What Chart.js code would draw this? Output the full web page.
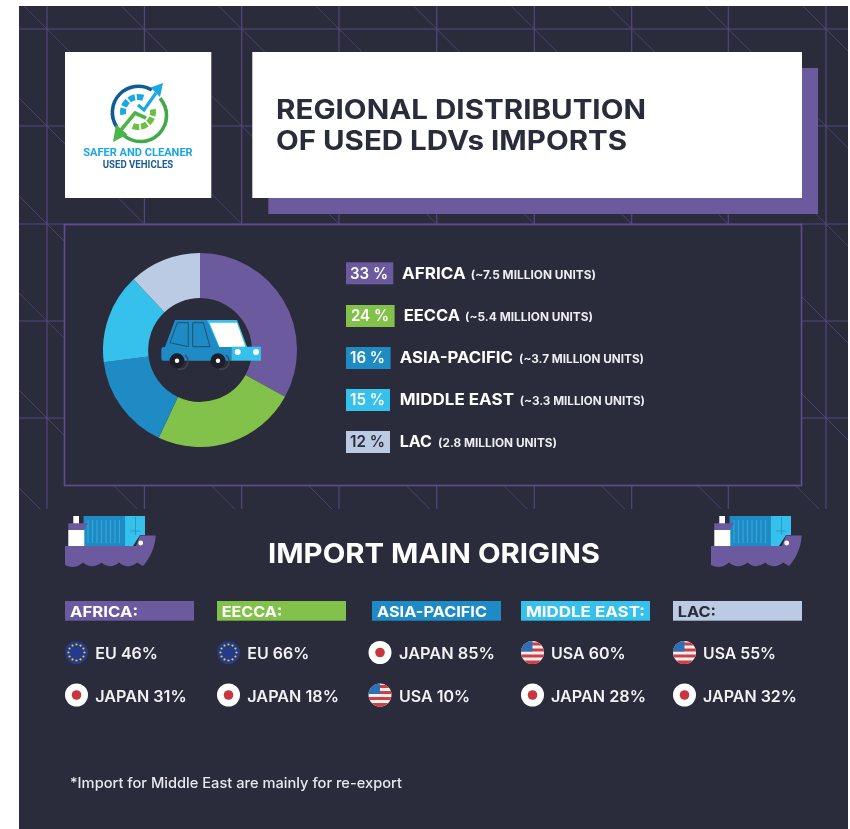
<!DOCTYPE html>
<html>
<head>
<meta charset="utf-8">
<title>Regional distribution of used LDVs imports</title>
<script src="https://cdn.jsdelivr.net/npm/chart.js@4"></script>
<style>
html, body { margin: 0; padding: 0; background: #fff; overflow: hidden; }
#hoja { position: relative; width: 850px; height: 829px; }
#fondo, #frente { position: absolute; left: 0; top: 0; }
#grafica { position: absolute; left: 103px; top: 253px; }
text { font-family: Inter, "Open Sans", sans-serif; }
</style>
</head>
<body>
<div id="hoja">
  <svg id="fondo" width="850" height="829"></svg>
  <canvas id="grafica" width="194" height="194"></canvas>
  <svg id="frente" width="850" height="829" xmlns="http://www.w3.org/2000/svg">
    <defs>
      <clipPath id="circulo"><circle cx="0" cy="0" r="11.5"/></clipPath>
      <g id="flag-JAPAN">
        <circle r="11.5" fill="#fff"/><circle r="4.8" fill="#c8373d"/>
      </g>
      <g id="flag-USA" clip-path="url(#circulo)">
        <rect x="-12" y="-12" width="24" height="24" fill="#f4f1f1"/>
        <rect x="-12" y="-10" width="24" height="3" fill="#cf3f45"/>
        <rect x="-12" y="-4" width="24" height="3" fill="#cf3f45"/>
        <rect x="-12" y="2" width="24" height="3" fill="#cf3f45"/>
        <rect x="-12" y="8" width="24" height="4" fill="#cf3f45"/>
        <rect x="-12" y="-12" width="12" height="11" fill="#2f6fb5"/>
      </g>
      <g id="flag-EU"><circle r="11.5" fill="#223b8c"/></g>
      <g id="barco">
        <rect x="73.3" y="516" width="5.7" height="8" fill="#fff"/>
        <rect x="83.5" y="516" width="42" height="30" fill="#1f8bc5"/>
        <path d="M88 520V543M92.5 520V543M97 520V543M101.5 520V543M106 520V543M110.5 520V543M115 520V543M119.5 520V543" stroke="#36a9dc" stroke-width="1"/>
        <path d="M125 516H145V535H140L133 546H125Z" fill="#36c0ec"/>
        <path d="M135.5 517V535M130 531H140" stroke="#1f8bc5" stroke-width=".7"/>
        <rect x="68.3" y="530" width="16" height="16" fill="#fff"/>
        <path d="M68.3 523.3H88.3L83.3 530H68.3Z" fill="#6c5a9e"/>
        <path d="M65 546H136L140 535.5H155.7C155 548 150 558 143 566L137 562.5Q128 570 119 562.5Q110 570 101.5 562.5Q92 570 83 562.5Q74 570 65 565Z" fill="#6c5a9e"/>
        <circle cx="140.7" cy="543" r="2.4" fill="#fff"/>
      </g>
    </defs>
  </svg>
</div>
<script>
// datos de la grafica
const regiones = ['AFRICA', 'EECCA', 'ASIA-PACIFIC', 'MIDDLE EAST', 'LAC'];
const porcentajes = [33, 24, 16, 15, 12];
const unidades = ['(~7.5 MILLION UNITS)', '(~5.4 MILLION UNITS)', '(~3.7 MILLION UNITS)', '(~3.3 MILLION UNITS)', '(2.8 MILLION UNITS)'];
const colores = ['#6c5a9e', '#82c24a', '#1f8bc5', '#36c0ec', '#bccbe4'];
// origenes de cada region
const cabeceras = ['AFRICA:', 'EECCA:', 'ASIA-PACIFIC', 'MIDDLE EAST:', 'LAC:'];
const origen1 = ['EU', 'EU', 'JAPAN', 'USA', 'USA'];
const valor1 = [46, 66, 85, 60, 55];
const origen2 = ['JAPAN', 'JAPAN', 'USA', 'JAPAN', 'JAPAN'];
const valor2 = [31, 18, 10, 28, 32];

const NS = 'http://www.w3.org/2000/svg';
const OSCURO = '#2b2c3b', LINEA = '#54467f', BLANCO = '#ffffff';

function el(padre, tag, attrs) {
    let e = document.createElementNS(NS, tag);
    for (let k in attrs) e.setAttribute(k, attrs[k]);
    padre.appendChild(e);
    return e;
}
// texto estirado entre x1 y x2, y es la linea base (la fuente original es mas ancha)
function txt(padre, s, x1, x2, y, size, weight, color, family) {
    let t = el(padre, 'text', { x: x1, y: y, 'font-size': size, 'font-weight': weight, fill: color,
        textLength: x2 - x1, lengthAdjust: 'spacingAndGlyphs' });
    if (family) t.style.fontFamily = family;
    t.textContent = s;
    return t;
}

const fondo = document.getElementById('fondo');
const frente = document.getElementById('frente');

// panel oscuro y la reticula de lineas
el(fondo, 'rect', { x: 19, y: 6, width: 829, height: 823, fill: OSCURO });
const gx = [47, 144.4, 241.7, 339, 436.7, 534.3, 631.7, 728.3, 826];
const gy = [29, 126, 224, 321, 418, 516];
const clip = el(el(fondo, 'defs', {}), 'clipPath', { id: 'zona' });
el(clip, 'rect', { x: 19, y: 6, width: 829, height: 503 });
const red = el(fondo, 'g', { 'clip-path': 'url(#zona)', stroke: LINEA, fill: 'none' });
gx.forEach(x => el(red, 'line', { x1: x, y1: 6, x2: x, y2: 509, 'stroke-width': 1.2 }));
gy.slice(0, 5).forEach(y => el(red, 'line', { x1: 19, y1: y, x2: 848, y2: y, 'stroke-width': 1.2 }));
gx.forEach(x => gy.forEach(y => el(red, 'line', { x1: x - 30, y1: y - 30, x2: x + 23, y2: y + 23, 'stroke-width': .8 })));

// cajas de arriba
el(fondo, 'rect', { x: 268.3, y: 68, width: 549.7, height: 146, fill: '#6c5a9e' });
el(fondo, 'rect', { x: 65, y: 52, width: 146.3, height: 146, fill: BLANCO });
el(fondo, 'rect', { x: 252.3, y: 52, width: 549.7, height: 146, fill: BLANCO });
el(fondo, 'rect', { x: 64.5, y: 224.5, width: 737, height: 261, fill: OSCURO, stroke: '#5e4d90', 'stroke-width': 1.6 });

txt(frente, 'REGIONAL DISTRIBUTION', 276, 646, 119.3, 27, 700, OSCURO);
txt(frente, 'OF USED LDVs IMPORTS', 276, 627, 150, 27, 700, OSCURO);

// logo
const logo = el(frente, 'g', { fill: 'none' });
el(logo, 'path', { d: 'M116.7 126.7A26 26 0 0 1 151.7 90', stroke: '#0f5c97', 'stroke-width': 3.6 });
el(logo, 'path', { d: 'M160 98.3A26 26 0 0 1 123.3 135', stroke: '#3fab48', 'stroke-width': 3.6 });
el(logo, 'path', { d: 'M123.2 114.6A15 15 0 0 1 145 98.7', stroke: '#1aa7e6', 'stroke-width': 6, 'stroke-dasharray': '6.5 1.8' });
el(logo, 'path', { d: 'M152.8 109.4A15 15 0 0 1 131 125.3', stroke: '#6cbf45', 'stroke-width': 6, 'stroke-dasharray': '6.5 1.8' });
el(logo, 'path', { d: 'M138 105L144 110L156 93', stroke: '#fff', 'stroke-width': 6 });
el(logo, 'path', { d: 'M138 105L144 110L156 93', stroke: '#1aa7e6', 'stroke-width': 3.2 });
el(logo, 'path', { d: 'M163 83L150.5 87.5L160 97Z', fill: '#1aa7e6' });
el(logo, 'path', { d: 'M146 118L135 113L121 130', stroke: '#fff', 'stroke-width': 6 });
el(logo, 'path', { d: 'M146 118L135 113L121 130', stroke: '#4cb748', 'stroke-width': 3.6 });
el(logo, 'path', { d: 'M113 142L116 124.5L127.5 134.5Z', fill: '#4cb748' });
txt(frente, 'SAFER AND CLEANER', 83.3, 192.7, 156, 11.5, 700, '#1aa7e6', 'Roboto');
txt(frente, 'USED VEHICLES', 102.7, 173.3, 167.5, 10, 700, '#1f5c94', 'Roboto');

// anillo
new Chart(document.getElementById('grafica'), {
    type: 'doughnut',
    data: {
        labels: regiones,
        datasets: [{ data: porcentajes, backgroundColor: colores, borderWidth: 0 }]
    },
    options: {
        responsive: false,
        animation: false,
        cutout: '53.5%',
        layout: { padding: 0 },
        plugins: { legend: { display: false }, tooltip: { enabled: false } }
    }
});

// coche del centro
const coche = el(frente, 'g', {});
el(coche, 'path', { d: 'M175 320H237L247 347H165Z', fill: '#1f8bc5' });
el(coche, 'path', { d: 'M207 320H237L247 347H219Z', fill: '#36c0ec' });
el(coche, 'path', { d: 'M209.5 322.8H237L245.5 347H219.5Z', fill: '#fff' });
el(coche, 'path', { d: 'M164 347H232V360.7H163Q161.3 360.7 161.3 358V350Q161.3 347 164 347Z', fill: '#1f8bc5' });
el(coche, 'rect', { x: 231.7, y: 346.7, width: 29.3, height: 14, fill: '#36c0ec' });
el(coche, 'path', { d: 'M177.3 322.7H188.3V346.7L170 342.7ZM192.7 322.7H203.3L210 346.7H192.7Z', fill: 'none', stroke: '#24506f', 'stroke-width': 1 });
[237.7, 256].forEach(x => el(coche, 'circle', { cx: x, cy: 352, r: 3, fill: '#fff' }));
[177, 218].forEach(x => {
    el(coche, 'path', { d: `M${x + 8} 355A8 8 0 0 1 ${x + 1} 369`, fill: 'none', stroke: '#44454f', 'stroke-width': 1.5 });
    el(coche, 'circle', { cx: x, cy: 360.7, r: 7.5, fill: '#1d1e29' });
    el(coche, 'circle', { cx: x, cy: 360.7, r: 2.2, fill: '#fff' });
});

// leyenda
const cajaFin = [393.3, 394.6, 390.6, 390, 390];
const lineaBase = [279, 321.3, 363.3, 405, 447.3];
const cajaTop = [262.3, 305, 347, 389, 431];
const pctX = [[350, 388], [351, 389], [350, 385], [350, 385], [350, 385]];
const nomX = [[402, 465.7], [403.7, 460], [399.7, 513], [399.7, 514], [399.7, 432]];
const uniX = [[470.7, 596], [465, 593], [519, 644], [519.7, 645], [438, 557]];
regiones.forEach((r, i) => {
    el(frente, 'rect', { x: 346, y: cajaTop[i], width: cajaFin[i] - 346, height: 22, fill: colores[i] });
    txt(frente, porcentajes[i] + ' %', pctX[i][0], pctX[i][1], lineaBase[i], 15.5, 600, i == 4 ? OSCURO : BLANCO);
    txt(frente, r, nomX[i][0], nomX[i][1], lineaBase[i], 16, 700, BLANCO);
    txt(frente, unidades[i], uniX[i][0], uniX[i][1], lineaBase[i], 11.2, 700, '#eeeef2');
});

// barcos y titulo de abajo
el(frente, 'use', { href: '#barco' });
el(frente, 'use', { href: '#barco', x: 646 });
txt(frente, 'IMPORT MAIN ORIGINS', 268, 600, 562.7, 27.5, 700, BLANCO);

// columnas de origenes
const colX = [65, 217, 372, 521, 673];
const iconoX = [76.5, 228.5, 380, 532.5, 684.5];
const textoX = [95.3, 247.3, 399, 551, 703];
const cabX = [[70, 138], [221.7, 282.3], [377, 487], [526, 645], [677.7, 716]];
const fila1Fin = [158, 309.3, 495, 625.7, 776];
const fila2Fin = [186.7, 339, 470, 646, 797];
function bandera(nombre, x, y) {
    el(frente, 'use', { href: '#flag-' + nombre, x: x, y: y });
    if (nombre == 'EU') {
        for (let a = 0; a < 12; a++) {
            let ang = a * Math.PI / 6;
            el(frente, 'circle', { cx: x + 8 * Math.cos(ang), cy: y + 8 * Math.sin(ang), r: 1.1, fill: '#f0c92e' });
        }
    }
}
cabeceras.forEach((c, i) => {
    el(frente, 'rect', { x: colX[i], y: 601, width: 129, height: 19.7, fill: colores[i] });
    txt(frente, c, cabX[i][0], cabX[i][1], 616.7, 15, 700, i == 4 ? OSCURO : BLANCO);
    bandera(origen1[i], iconoX[i], 652.5);
    bandera(origen2[i], iconoX[i], 695);
    txt(frente, origen1[i] + ' ' + valor1[i] + '%', textoX[i], fila1Fin[i], 659, 15.5, 600, '#f2f2f5');
    txt(frente, origen2[i] + ' ' + valor2[i] + '%', textoX[i], fila2Fin[i], 701.7, 15.5, 600, '#f2f2f5');
});

txt(frente, '*Import for Middle East are mainly for re-export', 70, 402, 788, 14, 500, '#e8e8ee');
</script>
</body>
</html>
